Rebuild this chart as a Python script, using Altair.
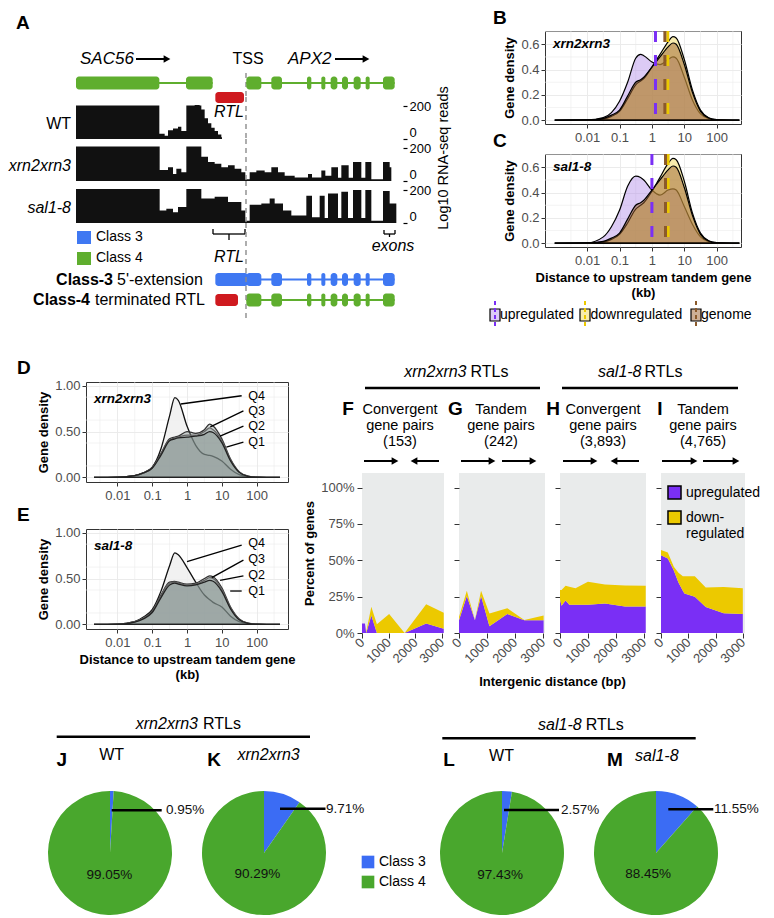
import altair as alt
import pandas as pd

FONT = "Liberation Sans"
ONE = alt.Data(values=[{"k": 1}])

# ---------------- data ----------------
# Panel A: gene models (bp from SAC56 start) and RNA-seq coverage tracks
sac56_exon_start = [0, 1650]
sac56_exon_end = [1250, 2050]
apx2_exon_start = [2555, 2930, 3465, 3680, 3820, 3990, 4165, 4345, 4605]
apx2_exon_end = [2780, 3090, 3530, 3740, 3920, 4080, 4270, 4405, 4780]
tss_bp = [2550]
rtl_span = [2090, 2520]
class3_ext_span = [2090, 2580]
class4_rtl_span = [2090, 2430]

wt_pos = [0, 1250, 1330, 1380, 1455, 1530, 1580, 1655, 1780, 1855, 1880, 1930, 1980, 2030, 2080, 2130, 2180, 2190]
wt_cov = [204, 32, 19, 53, 63, 74, 48, 204, 207, 204, 179, 126, 95, 69, 48, 27, 10, 0]
xrn_pos = [0, 1255, 1380, 1455, 1505, 1580, 1655, 1880, 1980, 2080, 2180, 2280, 2380, 2480, 2540, 2605, 2705,
           2830, 2930, 3030, 3130, 3280, 3480, 3540, 3680, 3740, 3830, 3930, 3980, 4090, 4155, 4280, 4340,
           4430, 4605, 4705, 4730]
xrn_cov = [210, 67, 84, 42, 74, 53, 210, 147, 116, 105, 84, 95, 74, 53, 10, 53, 63, 53, 84, 53, 32, 21, 42,
           21, 63, 32, 84, 20, 95, 20, 116, 20, 116, 10, 116, 84, 0]
sal_pos = [0, 1255, 1355, 1455, 1530, 1655, 1880, 2080, 2280, 2480, 2540, 2605, 2780, 2905, 2980, 3105, 3230,
           3455, 3540, 3655, 3730, 3780, 3930, 3980, 4080, 4155, 4280, 4340, 4430, 4605, 4705, 4805]
sal_cov = [206, 76, 87, 66, 97, 206, 148, 159, 128, 76, 14, 111, 118, 148, 118, 76, 45, 165, 35, 165, 30, 179,
           30, 190, 30, 200, 30, 200, 14, 194, 118, 0]

# Panels B/C: gene density vs log10 distance (kb)
grid_bc = [-3.0, -2.0, -1.5, -1.25, -1.0, -0.75, -0.5, -0.35, -0.25, 0.0, 0.25, 0.5, 0.65, 0.75, 1.0, 1.25, 1.5, 1.75, 2.0, 2.7]
b_up = [0.0, 0.002, 0.02, 0.06, 0.15, 0.3, 0.49, 0.52, 0.51, 0.46, 0.44, 0.48, 0.5, 0.49, 0.34, 0.16, 0.05, 0.012, 0.003, 0.0]
b_down = [0.0, 0.002, 0.01, 0.03, 0.07, 0.17, 0.28, 0.31, 0.33, 0.42, 0.52, 0.62, 0.66, 0.65, 0.48, 0.24, 0.08, 0.02, 0.005, 0.0]
b_genome = [0.0, 0.002, 0.015, 0.04, 0.08, 0.19, 0.3, 0.32, 0.34, 0.42, 0.5, 0.58, 0.61, 0.6, 0.44, 0.22, 0.07, 0.018, 0.004, 0.0]
c_up = [0.0, 0.003, 0.05, 0.13, 0.26, 0.45, 0.53, 0.52, 0.5, 0.42, 0.38, 0.42, 0.43, 0.42, 0.29, 0.15, 0.05, 0.012, 0.003, 0.0]
c_down = [0.0, 0.002, 0.01, 0.03, 0.07, 0.16, 0.27, 0.3, 0.32, 0.41, 0.52, 0.63, 0.67, 0.66, 0.49, 0.24, 0.08, 0.02, 0.005, 0.0]
c_genome = [0.0, 0.002, 0.015, 0.04, 0.08, 0.19, 0.3, 0.32, 0.34, 0.42, 0.5, 0.58, 0.61, 0.6, 0.44, 0.22, 0.07, 0.018, 0.004, 0.0]
b_medians = [0.11, 0.49, 0.40]   # upregulated, downregulated, genome (log10 kb)
c_medians = [0.0, 0.50, 0.42]

# Panels D/E: gene density by expression quartile
grid_de = [-2.67, -2.0, -1.5, -1.25, -1.0, -0.75, -0.5, -0.35, -0.25, 0.0, 0.25, 0.5, 0.65, 0.75, 1.0, 1.25, 1.5, 1.75, 2.0, 2.67]
d_q4 = [0.0, 0.003, 0.02, 0.05, 0.11, 0.31, 0.67, 0.87, 0.84, 0.56, 0.35, 0.25, 0.24, 0.23, 0.18, 0.09, 0.03, 0.008, 0.002, 0.0]
d_q3 = [0.0, 0.003, 0.02, 0.05, 0.11, 0.26, 0.42, 0.44, 0.45, 0.5, 0.48, 0.52, 0.58, 0.56, 0.42, 0.2, 0.06, 0.015, 0.003, 0.0]
d_q2 = [0.0, 0.003, 0.02, 0.05, 0.1, 0.25, 0.41, 0.43, 0.44, 0.46, 0.46, 0.5, 0.54, 0.52, 0.4, 0.19, 0.06, 0.015, 0.003, 0.0]
d_q1 = [0.0, 0.003, 0.02, 0.05, 0.1, 0.24, 0.4, 0.42, 0.43, 0.44, 0.45, 0.47, 0.5, 0.49, 0.38, 0.18, 0.055, 0.012, 0.003, 0.0]
e_q4 = [0.0, 0.003, 0.03, 0.08, 0.16, 0.36, 0.64, 0.78, 0.76, 0.62, 0.46, 0.32, 0.27, 0.24, 0.19, 0.09, 0.03, 0.007, 0.002, 0.0]
e_q3 = [0.0, 0.003, 0.03, 0.07, 0.15, 0.32, 0.46, 0.47, 0.46, 0.44, 0.45, 0.5, 0.53, 0.52, 0.4, 0.19, 0.06, 0.015, 0.003, 0.0]
e_q2 = [0.0, 0.003, 0.03, 0.07, 0.14, 0.31, 0.45, 0.46, 0.45, 0.43, 0.44, 0.48, 0.51, 0.5, 0.38, 0.18, 0.055, 0.013, 0.003, 0.0]
e_q1 = [0.0, 0.003, 0.025, 0.06, 0.13, 0.29, 0.43, 0.45, 0.44, 0.42, 0.43, 0.46, 0.48, 0.47, 0.36, 0.17, 0.05, 0.012, 0.003, 0.0]

# Panels F-I: percent of genes vs intergenic distance (bp)
f_x = [0, 110, 160, 350, 560, 1020, 1600, 2410, 3070]
f_up = [6.5, 6.5, 0, 12, 0, 0, 0, 6.5, 3]
f_down = [0, 0, 1, 6, 6, 13, 0, 13.2, 11]
g_x = [0, 280, 570, 790, 1090, 1730, 2340, 3030]
g_up = [8.8, 25.5, 8.8, 25.5, 4.6, 13, 8.8, 8.8]
g_down = [2.2, 3.5, 0.2, 3.5, 8.8, 4, 0.2, 3.2]
h_x = [0, 55, 200, 333, 555, 1000, 1610, 2330, 3070]
h_up = [23, 18.8, 22.3, 19.5, 19.5, 19.5, 20.2, 18.3, 18.3]
h_down = [6.6, 10.8, 10.1, 12.3, 11.3, 15.7, 13.1, 14.3, 14.1]
i_x = [0, 250, 470, 640, 800, 860, 1240, 1640, 2300, 3000]
i_up = [53.5, 51.2, 43, 34.7, 29, 27.2, 24.9, 17.8, 13.6, 13.1]
i_down = [3.5, 4.1, 2.5, 6.8, 10, 11.8, 14.1, 13.4, 18.1, 17.7]

# Panels J-M: class shares (%)
pie_classes = ["Class 3", "Class 4"]
j_pct = [0.95, 99.05]
k_pct = [9.71, 90.29]
l_pct = [2.57, 97.43]
m_pct = [11.55, 88.45]

# ---------------- styles ----------------
PURPLE = "#7a2ff5"
YELLOW = "#ecc900"
BROWN = "#8b5a2b"
GREEN_GENE = "#5fae2e"
BLUE_GENE = "#3f78f2"
RED_RTL = "#cf1a1f"
PIE_BLUE = "#3b6cf4"
PIE_GREEN = "#49a72d"
UP_FILL, DOWN_FILL, GEN_FILL = "#b28ce8", "#f0d54a", "#9a5f2e"


def T(s, x, y, size=14, align="left", weight="normal", style="normal",
      color="#000000", angle=0, baseline="middle", line_height=None):
    kw = dict(text=s, align=align, baseline=baseline, fontSize=size,
              fontWeight=weight, fontStyle=style, color=color)
    if angle:
        kw["angle"] = angle
    if line_height:
        kw["lineHeight"] = line_height
    return alt.Chart(ONE).mark_text(**kw).encode(x=alt.value(x), y=alt.value(y))


def R(x1, x2, y1, y2, color="#000000", w=1.5, dash=None):
    kw = dict(color=color, strokeWidth=w)
    if dash:
        kw["strokeDash"] = dash
    return alt.Chart(ONE).mark_rule(**kw).encode(
        x=alt.value(x1), x2=alt.value(x2), y=alt.value(y1), y2=alt.value(y2))


def BOX(x1, x2, y1, y2, color, stroke=None, r=0, opacity=1.0):
    kw = dict(fill=color, cornerRadius=r, fillOpacity=opacity)
    if stroke:
        kw.update(stroke=stroke, strokeWidth=1.2)
    return alt.Chart(ONE).mark_rect(**kw).encode(
        x=alt.value(x1), x2=alt.value(x2), y=alt.value(y1), y2=alt.value(y2))


def ARROW(x1, x2, y, right=True, w=2):
    if right:
        line = R(x1, x2 - 5, y, y, w=w)
        hx, shape = x2 - 4, "triangle-right"
    else:
        line = R(x1 + 5, x2, y, y, w=w)
        hx, shape = x1 + 4, "triangle-left"
    head = alt.Chart(ONE).mark_point(shape=shape, filled=True, color="#000000", size=60,
                                     opacity=1).encode(x=alt.value(hx), y=alt.value(y))
    return [line, head]


def spacer(w, h):
    return alt.Chart(ONE).mark_rect(opacity=0).encode(
        x=alt.value(0), x2=alt.value(0), y=alt.value(0), y2=alt.value(0)).properties(width=w, height=h)


# ---------------- Panel A ----------------
AW = 395
XA = alt.Scale(domain=[-1020, 4905], nice=False, zero=False)


def xa(field):
    return alt.X(field, type="quantitative", scale=XA, axis=None)


def gene(starts, ends, color, yc, h=13):
    ex = pd.DataFrame({"s": starts, "e": ends})
    sp = pd.DataFrame({"s": [min(starts)], "e": [max(ends)]})
    return [
        alt.Chart(sp).mark_rule(color=color, strokeWidth=2).encode(
            x=xa("s"), x2=alt.X2("e"), y=alt.value(yc)),
        alt.Chart(ex).mark_rect(color=color, cornerRadius=3).encode(
            x=xa("s"), x2=alt.X2("e"), y=alt.value(yc - h / 2), y2=alt.value(yc + h / 2)),
    ]


def span_box(span, color, y1, y2, r=3):
    df = pd.DataFrame({"s": [span[0]], "e": [span[1]]})
    return alt.Chart(df).mark_rect(color=color, cornerRadius=r).encode(
        x=xa("s"), x2=alt.X2("e"), y=alt.value(y1), y2=alt.value(y2))


def tss_line(y1=None, y2=None):
    c = alt.Chart(pd.DataFrame({"t": tss_bp})).mark_rule(
        color="#8c8c8c", strokeWidth=1.4, strokeDash=[5, 4])
    if y1 is None:
        return c.encode(x=xa("t"))
    return c.encode(x=xa("t"), y=alt.value(y1), y2=alt.value(y2))


A_head = alt.layer(
    tss_line(42, 66),
    *gene(sac56_exon_start, sac56_exon_end, GREEN_GENE, 52),
    *gene(apx2_exon_start, apx2_exon_end, GREEN_GENE, 52),
    span_box(rtl_span, RED_RTL, 61, 72),
    T("A", 8, -8, 19, weight="bold"),
    T("SAC56", 72, 28, 17, style="italic"),
    *ARROW(128, 163, 28),
    T("TSS", 240, 28, 16, align="center"),
    T("APX2", 280, 28, 17, style="italic"),
    *ARROW(327, 362, 28),
).properties(width=AW, height=66)


def track(pos, cov, name, italic, extras):
    df = pd.DataFrame({"pos": pos, "cov": cov})
    area = alt.Chart(df).mark_area(interpolate="step-after", color="#111111").encode(
        x=xa("pos"),
        y=alt.Y("cov:Q", scale=alt.Scale(domain=[0, 255], nice=False),
                axis=alt.Axis(orient="right", values=[0, 200], title=None, grid=False, domain=False,
                              tickSize=4, tickColor="#000000", tickWidth=1.2, labelFontSize=13,
                              labelColor="#000000", labelPadding=2, labelFlush=True)))
    return alt.layer(
        area, tss_line(),
        T(name, 63, 27, 16, align="right", style="italic" if italic else "normal"),
        *extras,
    ).properties(width=AW, height=42)


A_wt = track(wt_pos, wt_cov, "WT", False, [T("RTL", 221, 15, 16, align="center", style="italic")])
A_xrn = track(xrn_pos, xrn_cov, "xrn2xrn3", True,
              [T("Log10 RNA-seq reads", 436, 19, 14.5, align="center", angle=270)])
A_sal = track(sal_pos, sal_cov, "sal1-8", True, [])

A_bot = alt.layer(
    BOX(69, 83, 8, 21, BLUE_GENE), T("Class 3", 88, 14, 14),
    BOX(69, 83, 29, 42, GREEN_GENE), T("Class 4", 88, 35, 14),
    R(205, 205, 6, 11, w=1.3), R(237, 237, 6, 11, w=1.3), R(205, 237, 11, 11, w=1.3), R(221, 221, 11, 17, w=1.3),
    T("RTL", 221, 34, 16, align="center", style="italic"),
    R(376, 376, 7, 11, w=1.3), R(387, 387, 7, 11, w=1.3), R(376, 387, 11, 11, w=1.3), R(381.5, 381.5, 11, 14, w=1.3),
    T("exons", 385, 23, 16, align="center", style="italic"),
    span_box(class3_ext_span, BLUE_GENE, 50, 63),
    *gene(apx2_exon_start, apx2_exon_end, BLUE_GENE, 56.5),
    T("Class-3", 105, 57, 16, align="right", weight="bold"),
    T("5'-extension", 109, 57, 16),
    span_box(class4_rtl_span, RED_RTL, 71, 83),
    *gene(apx2_exon_start, apx2_exon_end, GREEN_GENE, 77),
    T("Class-4", 82, 77, 16, align="right", weight="bold"),
    T("terminated RTL", 87, 77, 16),
    tss_line(0, 95),
).properties(width=AW, height=98)

PANEL_A = alt.vconcat(A_head, A_wt, A_xrn, A_sal, A_bot, spacing=0, bounds="flush")

# ---------------- Panels B / C ----------------
AX = dict(labelColor="#4d4d4d", labelFontSize=13, tickColor="#333333", tickSize=4, domain=False,
          titleFontSize=13, titleFontWeight="bold", titleColor="#000000", gridColor="#ebebeb")
LOGLAB = "format(pow(10, datum.value), '~g')"
XB = alt.Scale(domain=[-3.3, 2.75], nice=False, zero=False)
YB = alt.Scale(domain=[-0.03, 0.705], nice=False, zero=False)
FRAME = alt.ViewBackground(stroke="#333333", strokeWidth=1)


def letter_title(s, dx):
    return alt.TitleParams(s, anchor="start", dx=dx, fontSize=19, fontWeight="bold", frame="group", offset=2)


def dens_bc(up, down, genome, meds, label, letter, xtitle, legend):
    xax = alt.Axis(values=[-2, -1, 0, 1, 2], labelExpr=LOGLAB, grid=True, title=xtitle, labelPadding=3, **AX)
    yax = alt.Axis(values=[0, 0.2, 0.4, 0.6], format=".1f", grid=True, title="Gene density", **AX)

    def X():
        return alt.X("lx:Q", scale=XB, axis=xax)

    def Y():
        return alt.Y("d:Q", scale=YB, axis=yax)

    layers = [
        alt.Chart(pd.DataFrame({"lx": [-2.5, -1.5, -0.5, 0.5, 1.5, 2.5]})).mark_rule(
            color="#ebebeb", strokeWidth=0.6).encode(x=X()),
        alt.Chart(pd.DataFrame({"d": [0.1, 0.3, 0.5, 0.7]})).mark_rule(
            color="#ebebeb", strokeWidth=0.6).encode(y=Y()),
    ]
    for vals, fill, op in [(up, UP_FILL, 0.45), (down, DOWN_FILL, 0.45), (genome, GEN_FILL, 0.5)]:
        df = pd.DataFrame({"lx": grid_bc, "d": vals})
        layers.append(alt.Chart(df).mark_area(interpolate="monotone", fill=fill, fillOpacity=op,
                                              stroke="#000000", strokeWidth=1.2).encode(x=X(), y=Y()))
    for m, col in zip(meds, [PURPLE, YELLOW, BROWN]):
        layers.append(alt.Chart(pd.DataFrame({"lx": [m]})).mark_rule(
            color=col, strokeWidth=3, strokeDash=[11, 13]).encode(x=X()))
    layers.append(T(label, 8, 13, 13.5, weight="bold", style="italic"))
    if legend:
        for cx, tx, col, fill, op, name in [(-50, -45, PURPLE, UP_FILL, 0.45, "upregulated"),
                                            (40, 45.5, YELLOW, DOWN_FILL, 0.45, "downregulated"),
                                            (151, 156, BROWN, GEN_FILL, 0.5, "genome")]:
            layers += [BOX(cx - 5, cx + 5, 155, 167, fill, stroke="#000000", opacity=op),
                       R(cx, cx, 147, 175, color=col, w=2, dash=[4, 3]),
                       T(name, tx, 161, 14)]
    return alt.layer(*layers).properties(width=196, height=93, title=letter_title(letter, -52), view=FRAME)


B = dens_bc(b_up, b_down, b_genome, b_medians, "xrn2xrn3", "B", None, False)
C = dens_bc(c_up, c_down, c_genome, c_medians, "sal1-8", "C",
            ["Distance to upstream tandem gene", "(kb)"], True)
PANEL_BC = alt.vconcat(B, C, spacing=30, bounds="flush")

# ---------------- Panels D / E ----------------
XD = alt.Scale(domain=[-2.9, 2.9], nice=False, zero=False)
YD = alt.Scale(domain=[-0.05, 1.04], nice=False, zero=False)


def dens_de(q4, q3, q2, q1, label, letter, xtitle, qlabels, leaders):
    xax = alt.Axis(values=[-2, -1, 0, 1, 2], labelExpr=LOGLAB, grid=True, title=xtitle, labelPadding=3, **AX)
    yax = alt.Axis(values=[0, 0.25, 0.5, 0.75, 1.0], format=".2f", grid=True, title="Gene density", **AX)

    def X():
        return alt.X("lx:Q", scale=XD, axis=xax)

    def Y():
        return alt.Y("d:Q", scale=YD, axis=yax)

    layers = [
        alt.Chart(pd.DataFrame({"lx": [-2.5, -1.5, -0.5, 0.5, 1.5, 2.5]})).mark_rule(
            color="#ebebeb", strokeWidth=0.6).encode(x=X()),
        alt.Chart(pd.DataFrame({"d": [0.125, 0.375, 0.625, 0.875]})).mark_rule(
            color="#ebebeb", strokeWidth=0.6).encode(y=Y()),
    ]
    for vals, fill, op, st in [(q4, "#eeeeee", 0.85, "#111111"), (q3, "#7f8c8a", 0.35, "#333333"),
                               (q2, "#7f8c8a", 0.35, "#666666"), (q1, "#7f8c8a", 0.35, "#222222")]:
        df = pd.DataFrame({"lx": grid_de, "d": vals})
        layers.append(alt.Chart(df).mark_area(interpolate="monotone", fill=fill, fillOpacity=op,
                                              stroke=st, strokeWidth=1.3).encode(x=X(), y=Y()))
    for name, (lx, ly) in zip(["Q4", "Q3", "Q2", "Q1"], qlabels):
        layers.append(alt.Chart(ONE).mark_text(text=name, align="left", fontSize=12.5, color="#000000")
                      .encode(x=alt.datum(lx), y=alt.datum(ly)))
    for (a, b, c, d) in leaders:
        layers.append(alt.Chart(ONE).mark_rule(color="#000000", strokeWidth=1.3)
                      .encode(x=alt.datum(a), x2=alt.datum(b), y=alt.datum(c), y2=alt.datum(d)))
    layers.append(T(label, 8, 17, 13.5, weight="bold", style="italic"))
    return alt.layer(*layers).properties(width=202, height=100, title=letter_title(letter, -69), view=FRAME)


D = dens_de(d_q4, d_q3, d_q2, d_q1, "xrn2xrn3", "D", None,
            [(1.76, 0.89), (1.76, 0.725), (1.76, 0.56), (1.76, 0.385)],
            [(1.57, -0.18, 0.89, 0.80), (1.62, 0.67, 0.725, 0.55), (1.62, 0.95, 0.56, 0.45), (1.62, 1.13, 0.385, 0.33)])
E = dens_de(e_q4, e_q3, e_q2, e_q1, "sal1-8", "E", ["Distance to upstream tandem gene", "(kb)"],
            [(1.76, 0.884), (1.76, 0.713), (1.76, 0.538), (1.76, 0.364)],
            [(1.57, 0.0, 0.865, 0.684), (1.62, 0.71, 0.70, 0.51), (1.62, 0.95, 0.53, 0.48), (1.57, 1.24, 0.364, 0.364)])
PANEL_DE = alt.vconcat(D, E, spacing=47, bounds="flush")

# ---------------- Panels F-I ----------------
XF = alt.Scale(domain=[0, 3080], nice=False, zero=False)
YF = alt.Scale(domain=[0, 110], nice=False)
REG_SCALE = alt.Scale(domain=["upregulated", "downregulated"], range=[PURPLE, YELLOW])
AXF = dict(labelColor="#4d4d4d", labelFontSize=13, tickColor="#333333", tickSize=5, domain=False, grid=False,
           titleFontSize=13, titleFontWeight="bold", titleColor="#000000")
FW = [82, 86, 86, 84]
FSP = 15


def pct_chart(xs, up, down, width, first, last, extras):
    n = len(xs)
    df = pd.DataFrame({"x": xs + xs, "pct": up + down,
                       "reg": ["upregulated"] * n + ["downregulated"] * n})
    if first:
        yax = alt.Axis(values=[0, 25, 50, 75, 100], labelExpr="datum.value + '%'",
                       title="Percent of genes", labelPadding=3, **AXF)
    else:
        yax = alt.Axis(values=[0, 25, 50, 75, 100], labels=False, title=None, **AXF)
    xax = alt.Axis(values=[0, 1000, 2000, 3000], format="d", labelAngle=315, labelAlign="right",
                   labelBaseline="middle", labelOverlap=False, title=None, labelPadding=2, **AXF)
    if last:
        leg = alt.Legend(title=None, orient="none", legendX=6, legendY=12, symbolType="square",
                         symbolSize=170, symbolStrokeColor="#000000", symbolStrokeWidth=1.5,
                         symbolOpacity=1, labelFontSize=14, labelColor="#000000", rowPadding=4,
                         labelExpr="datum.label == 'downregulated' ? ['down-', 'regulated'] : datum.label")
    else:
        leg = None
    area = alt.Chart(df).transform_calculate(
        ord="datum.reg == 'upregulated' ? 0 : 1"
    ).mark_area(opacity=1).encode(
        x=alt.X("x:Q", scale=XF, axis=xax),
        y=alt.Y("pct:Q", stack="zero", scale=YF, axis=yax),
        color=alt.Color("reg:N", scale=REG_SCALE, legend=leg),
        order=alt.Order("ord:Q"),
    )
    return alt.layer(area, *extras).properties(
        width=width, height=160, view=alt.ViewBackground(fill="#e9ebeb", strokeWidth=0))


F = pct_chart(f_x, f_up, f_down, FW[0], True, False, [])
G = pct_chart(g_x, g_up, g_down, FW[1], False, False, [
    T("Intergenic distance (bp)", 93.5, 209, 13, align="center", weight="bold")])
H = pct_chart(h_x, h_up, h_down, FW[2], False, False, [])
I = pct_chart(i_x, i_up, i_down, FW[3], False, True, [])
FI_ROW = alt.hconcat(F, G, H, I, spacing=FSP, bounds="flush").resolve_scale(
    color="independent").resolve_legend(color="independent")

# header band above F-I (origin = top-left of F's plot column, 91 px above the plots)
gx = [0, FW[0] + FSP, FW[0] + FW[1] + 2 * FSP, FW[0] + FW[1] + FW[2] + 3 * FSP]
SUB = dict(size=14.5, align="center", baseline="top", line_height=16)
HEADER = alt.layer(
    T("xrn2xrn3", 104.5, -10, 16, align="right", style="italic"), T("RTLs", 108.5, -10, 16),
    R(3, gx[1] + FW[1] - 5, 6, 6, w=2.5),
    T("sal1-8", 279.5, -10, 16, align="right", style="italic"), T("RTLs", 282.5, -10, 16),
    R(gx[2] + 2, gx[3] + FW[3] - 7, 6, 6, w=2.5),
    T("F", -14, 27, 19, align="center", weight="bold"),
    T(["Convergent", "gene pairs", "(153)"], 38, 21, **SUB),
    *ARROW(2, 37, 79), *ARROW(48, 77, 79, right=False),
    T("G", gx[1] - 3.5, 27, 19, align="center", weight="bold"),
    T(["Tandem", "gene pairs", "(242)"], gx[1] + 42, 21, **SUB),
    *ARROW(gx[1] + 2, gx[1] + 37, 79), *ARROW(gx[1] + 43, gx[1] + 78, 79),
    T("H", gx[2] - 7, 27, 19, align="center", weight="bold"),
    T(["Convergent", "gene pairs", "(3,893)"], gx[2] + 43, 21, **SUB),
    *ARROW(gx[2] + 3, gx[2] + 38, 79), *ARROW(gx[2] + 50, gx[2] + 79, 79, right=False),
    T("I", gx[3] - 1, 27, 19, align="center", weight="bold"),
    T(["Tandem", "gene pairs", "(4,765)"], gx[3] + 42, 21, **SUB),
    *ARROW(gx[3] + 1, gx[3] + 37, 79), *ARROW(gx[3] + 42, gx[3] + 79, 79),
).properties(width=gx[3] + FW[3], height=91)

PANEL_FI = alt.vconcat(HEADER, FI_ROW, spacing=0).resolve_scale(color="independent")

# ---------------- Panels J-M ----------------
PIE_SCALE = alt.Scale(domain=pie_classes, range=[PIE_BLUE, PIE_GREEN])


def pie_chart(pcts, lead, extras):
    df = pd.DataFrame({"cls": pie_classes, "pct": pcts, "idx": [0, 1]})
    base = alt.Chart(df).encode(theta=alt.Theta("pct:Q", stack=True), order=alt.Order("idx:Q"))
    arc = base.mark_arc(outerRadius=62).encode(color=alt.Color("cls:N", scale=PIE_SCALE, legend=None))
    big = base.transform_calculate(
        lab="datum.idx == 1 ? format(datum.pct, '.2f') + '%' : ''"
    ).mark_text(radius=22, fontSize=13.5, color="#111111").encode(text="lab:N")
    x1, x2, y, tx = lead
    small = alt.Chart(df).transform_filter("datum.idx == 0").transform_calculate(
        lab="format(datum.pct, '.2f') + '%'"
    ).mark_text(align="left", fontSize=13.5, color="#111111").encode(
        x=alt.value(tx), y=alt.value(y), text="lab:N")
    return alt.layer(arc, big, R(x1, x2, y, y, w=2.5), small, *extras).properties(width=124, height=124)


J = pie_chart(j_pct, (63.7, 113.7, 19.3, 118), [
    T("xrn2xrn3", 150, -67, 16, align="right", style="italic"), T("RTLs", 155, -67, 16),
    R(8.7, 262, -54.3, -54.3, w=2.5),
    T("J", 13.7, -31, 19, align="center", weight="bold"),
    T("WT", 63.7, -36, 16, align="center"),
])
K = pie_chart(k_pct, (78, 123.5, 17.7, 124), [
    T("K", 12, -31, 19, align="center", weight="bold"),
    T("xrn2xrn3", 35.5, -36, 16, style="italic"),
])
L = pie_chart(l_pct, (64, 119, 19, 121), [
    T("sal1-8", 141.7, -66, 16, align="right", style="italic"), T("RTLs", 145.7, -66, 16),
    R(2.3, 255.7, -52.7, -52.7, w=2.5),
    T("L", 9, -31, 19, align="center", weight="bold"),
    T("WT", 61.5, -35, 16, align="center"),
])
M = pie_chart(m_pct, (74.3, 119.3, 18.3, 120), [
    T("M", 21, -31, 19, align="center", weight="bold"),
    T("sal1-8", 41, -35, 16, style="italic"),
])

leg_df = pd.DataFrame({"cls": pie_classes})
LEG_Y = alt.Y("cls:N", scale=alt.Scale(type="point", range=[71, 91], padding=0), axis=None)
LEG = alt.layer(
    alt.Chart(leg_df).mark_square(size=160, opacity=1).encode(
        x=alt.value(12), y=LEG_Y, color=alt.Color("cls:N", scale=PIE_SCALE, legend=None)),
    alt.Chart(leg_df).mark_text(align="left", fontSize=14, color="#000000").encode(
        x=alt.value(23), y=LEG_Y, text="cls:N"),
).properties(width=54, height=124)

ROW1 = alt.hconcat(PANEL_A, PANEL_BC, spacing=37)
ROW2 = alt.hconcat(spacer(1, 1), PANEL_DE, PANEL_FI, spacing=7).resolve_scale(color="independent")
ROW3 = alt.hconcat(spacer(10, 10), J, K, LEG, L, M, spacing=30, bounds="flush")

chart = alt.vconcat(ROW1, ROW2, ROW3, spacing=27).resolve_scale(
    color="independent"
).properties(padding=0, background="white").configure(font=FONT).configure_view(strokeWidth=0)

chart.save("out.html", embed_options={"renderer": "svg", "actions": False})
